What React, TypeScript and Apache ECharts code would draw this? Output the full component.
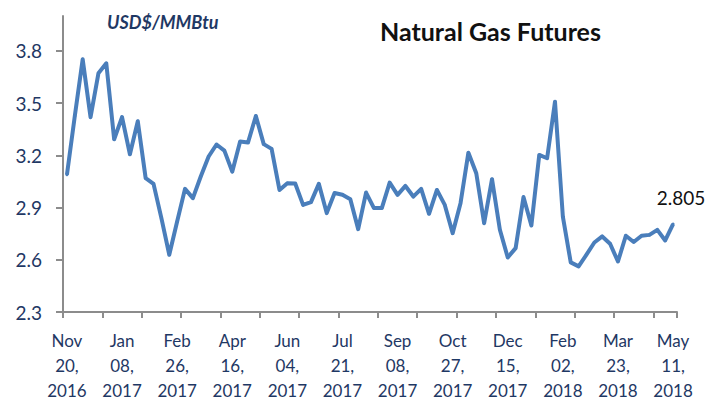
import React, { useEffect, useRef } from "react";
import * as echarts from "echarts";

const categories: string[] = [
  "Nov 20, 2016", "Nov 27, 2016", "Dec 04, 2016", "Dec 11, 2016", "Dec 18, 2016", "Dec 25, 2016", "Jan 01, 2017",
  "Jan 08, 2017", "Jan 15, 2017", "Jan 22, 2017", "Jan 29, 2017", "Feb 05, 2017", "Feb 12, 2017", "Feb 19, 2017",
  "Feb 26, 2017", "Mar 05, 2017", "Mar 12, 2017", "Mar 19, 2017", "Mar 26, 2017", "Apr 02, 2017", "Apr 09, 2017",
  "Apr 16, 2017", "Apr 23, 2017", "Apr 30, 2017", "May 07, 2017", "May 14, 2017", "May 21, 2017", "May 28, 2017",
  "Jun 04, 2017", "Jun 11, 2017", "Jun 18, 2017", "Jun 25, 2017", "Jul 02, 2017", "Jul 09, 2017", "Jul 14, 2017",
  "Jul 21, 2017", "Jul 28, 2017", "Aug 04, 2017", "Aug 11, 2017", "Aug 18, 2017", "Aug 25, 2017", "Sep 01, 2017",
  "Sep 08, 2017", "Sep 15, 2017", "Sep 22, 2017", "Sep 29, 2017", "Oct 06, 2017", "Oct 13, 2017", "Oct 20, 2017",
  "Oct 27, 2017", "Nov 03, 2017", "Nov 10, 2017", "Nov 17, 2017", "Nov 24, 2017", "Dec 01, 2017", "Dec 08, 2017",
  "Dec 15, 2017", "Dec 22, 2017", "Dec 29, 2017", "Jan 05, 2018", "Jan 12, 2018", "Jan 19, 2018", "Jan 26, 2018",
  "Feb 02, 2018", "Feb 09, 2018", "Feb 16, 2018", "Feb 23, 2018", "Mar 02, 2018", "Mar 09, 2018", "Mar 16, 2018",
  "Mar 23, 2018", "Mar 30, 2018", "Apr 06, 2018", "Apr 13, 2018", "Apr 20, 2018", "Apr 27, 2018", "May 04, 2018",
  "May 11, 2018",
];

const prices: number[] = [
  3.088, 3.426, 3.751, 3.419, 3.671, 3.728, 3.292,
  3.419, 3.206, 3.396, 3.069, 3.036, 2.839, 2.629,
  2.82, 3.007, 2.954, 3.078, 3.193, 3.262, 3.227,
  3.106, 3.279, 3.273, 3.426, 3.264, 3.237, 3.001,
  3.04, 3.038, 2.915, 2.931, 3.036, 2.868, 2.983,
  2.973, 2.948, 2.776, 2.986, 2.897, 2.897, 3.043,
  2.973, 3.024, 2.963, 3.007, 2.864, 3.001, 2.915,
  2.753, 2.925, 3.215, 3.097, 2.81, 3.063, 2.772,
  2.613, 2.667, 2.96, 2.797, 3.202, 3.183, 3.508,
  2.848, 2.585, 2.562, 2.629, 2.699, 2.734, 2.692,
  2.59, 2.738, 2.702, 2.738, 2.743, 2.772, 2.711,
  2.805,
];

const yTicks: number[] = [2.3, 2.6, 2.9, 3.2, 3.5, 3.8];

const TITLE = "Natural Gas Futures";
const UNIT = "USD$/MMBtu";

const NAVY = "#1f3864";
const FONT = "Lato, 'Open Sans', sans-serif";

export default function App() {
  const ref = useRef<HTMLDivElement>(null);
  useEffect(() => {
    if (!ref.current) return;
    const chart = echarts.init(ref.current, undefined, { renderer: "svg" });
    const last = prices.length - 1;
    chart.setOption({
      animation: false,
      backgroundColor: "#ffffff",
      title: [
        {
          text: TITLE,
          left: 380,
          top: 18,
          padding: 0,
          textStyle: { fontFamily: FONT, fontWeight: "bold", fontSize: 25, color: "#111111" },
        },
        {
          text: UNIT,
          left: 107,
          top: 13,
          padding: 0,
          textStyle: { fontFamily: FONT, fontWeight: "bold", fontStyle: "italic", fontSize: 18, color: NAVY },
        },
      ],
      grid: { left: 63, right: 44, top: 16, bottom: 95, containLabel: false },
      xAxis: {
        type: "category",
        data: categories,
        boundaryGap: true,
        axisLine: { lineStyle: { color: "#8c8c8c", width: 2 } },
        axisTick: { show: true, interval: 4, length: 6, alignWithLabel: false, lineStyle: { color: "#8c8c8c", width: 2 } },
        axisLabel: {
          interval: 6,
          margin: 16,
          fontFamily: FONT,
          fontSize: 17,
          lineHeight: 25,
          color: NAVY,
          formatter: (v: string) => {
            const m = v.match(/^(\w+) (\d+), (\d+)$/);
            return m ? `${m[1]}\n${m[2]},\n${m[3]}` : v;
          },
        },
        splitLine: { show: false },
      },
      yAxis: {
        type: "value",
        min: 2.3,
        max: 4.0,
        axisLine: { show: true, lineStyle: { color: "#8c8c8c", width: 2 } },
        axisTick: { show: true, length: 7, customValues: yTicks, lineStyle: { color: "#8c8c8c", width: 2 } },
        axisLabel: {
          customValues: yTicks,
          margin: 21,
          fontFamily: FONT,
          fontSize: 19,
          color: NAVY,
          formatter: (v: number) => v.toFixed(1),
        },
        splitLine: { show: false },
      },
      series: [
        {
          type: "line",
          data: prices.map((p, i) =>
            i === last
              ? {
                  value: p,
                  label: {
                    show: true,
                    position: "top",
                    distance: 16,
                    offset: [8, 0],
                    formatter: () => p.toFixed(3),
                    fontFamily: FONT,
                    fontSize: 19,
                    color: "#111111",
                  },
                }
              : p
          ),
          symbol: "circle",
          symbolSize: 3,
          showSymbol: true,
          itemStyle: { color: "#4a7ebb" },
          lineStyle: { color: "#4a7ebb", width: 4, join: "round" },
          silent: true,
        },
      ],
    });
    return () => chart.dispose();
  }, []);
  return (
    <div
      ref={ref}
      style={{ position: "absolute", left: 0, top: 0, width: 721, height: 407 }}
    />
  );
}
